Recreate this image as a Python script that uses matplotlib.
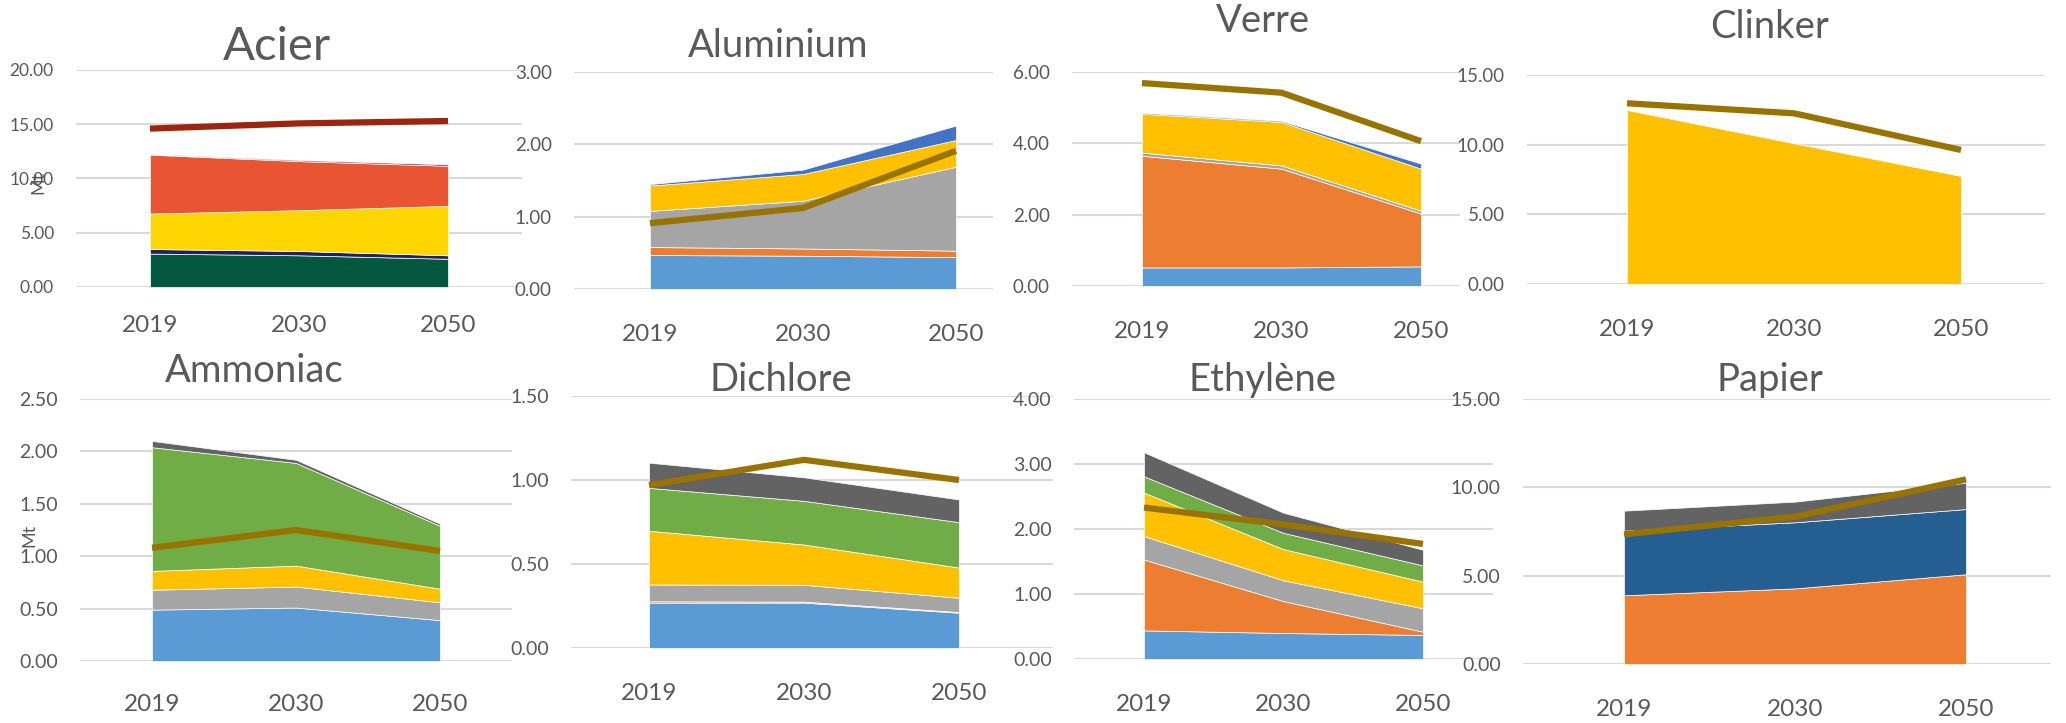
import matplotlib
matplotlib.use("Agg")
import matplotlib.pyplot as plt
import numpy as np

plt.rcParams["font.family"] = ["Lato", "DejaVu Sans"]

years = ["2019", "2030", "2050"]

# Acier (Mt) - stacked layers bottom to top + line
acier_green = [3.08, 2.92, 2.60]
acier_navy = [0.42, 0.40, 0.32]
acier_yellow = [3.27, 3.76, 4.56]
acier_red = [5.43, 4.52, 3.69]
acier_maroon = [0.05, 0.10, 0.13]
acier_line = [14.60, 15.08, 15.30]

# Aluminium
alu_blue = [0.47, 0.46, 0.44]
alu_orange = [0.11, 0.10, 0.09]
alu_gray = [0.50, 0.66, 1.16]
alu_yellow = [0.35, 0.37, 0.37]
alu_dblue = [0.02, 0.06, 0.20]
alu_line = [0.91, 1.12, 1.91]

# Verre
verre_blue = [0.52, 0.52, 0.55]
verre_orange = [3.13, 2.77, 1.48]
verre_gray = [0.09, 0.09, 0.08]
verre_yellow = [1.09, 1.22, 1.18]
verre_dblue = [0.03, 0.03, 0.14]
verre_line = [5.69, 5.42, 4.06]

# Clinker
clinker_yellow = [12.49, 10.10, 7.75]
clinker_line = [12.97, 12.25, 9.62]

# Ammoniac
amm_blue = [0.49, 0.51, 0.39]
amm_gray = [0.19, 0.20, 0.17]
amm_yellow = [0.18, 0.20, 0.13]
amm_green = [1.18, 0.98, 0.60]
amm_dgray = [0.06, 0.03, 0.02]
amm_line = [1.08, 1.25, 1.05]

# Dichlore
dic_blue = [0.27, 0.27, 0.21]
dic_orange = [0.008, 0.006, 0.004]
dic_gray = [0.10, 0.10, 0.085]
dic_yellow = [0.32, 0.24, 0.18]
dic_green = [0.255, 0.26, 0.27]
dic_dgray = [0.15, 0.14, 0.135]
dic_line = [0.97, 1.12, 1.00]

# Ethylene
eth_blue = [0.44, 0.40, 0.37]
eth_orange = [1.09, 0.49, 0.05]
eth_gray = [0.36, 0.32, 0.36]
eth_yellow = [0.67, 0.48, 0.41]
eth_green = [0.25, 0.25, 0.25]
eth_dgray = [0.37, 0.31, 0.24]
eth_line = [2.33, 2.07, 1.77]

# Papier
pap_orange = [3.89, 4.28, 5.08]
pap_dblue = [3.66, 3.74, 3.69]
pap_dgray = [1.13, 1.17, 1.49]
pap_line = [7.34, 8.34, 10.45]

BLUE, ORANGE, GRAY, YELLOW = "#5B9BD5", "#ED7D31", "#A5A5A5", "#FFC000"
DBLUE, GREEN, DGRAY, NAVY = "#4472C4", "#70AD47", "#636363", "#255E91"
GOLD = "#997300"
TXT = "#595959"

W, H = 2066, 723
fig = plt.figure(figsize=(W / 100, H / 100), dpi=100)


def panel(box, cats, ymax, step, layers, colors, line, line_color,
          title, title_pos, title_size, ysize, xpad):
    gx0, gx1, yt, yb = box
    ax = fig.add_axes([gx0 / W, 1 - yb / H, (gx1 - gx0) / W, (yb - yt) / H])
    ax.patch.set_visible(False)
    b = (cats[1] - cats[0]) / 2
    ax.set_xlim((gx0 - cats[0]) / b, (gx1 - cats[0]) / b)
    ax.set_ylim(0, ymax)
    x = np.arange(len(years))
    ax.stackplot(x, layers, colors=colors, edgecolor="white", linewidth=0.5, zorder=2)
    ax.plot(x, line, color=line_color, lw=4.5, solid_capstyle="butt",
            solid_joinstyle="miter", zorder=3)
    ticks = np.arange(0, ymax + step / 2, step)
    ax.set_yticks(ticks)
    ax.set_yticklabels([f"{t:.2f}" for t in ticks], fontsize=ysize, color=TXT)
    ax.set_xticks(x)
    ax.set_xticklabels(years, fontsize=17.5, color=TXT)
    ax.tick_params(axis="y", length=0, pad=16)
    ax.tick_params(axis="x", length=0, pad=xpad)
    for s in ax.spines.values():
        s.set_visible(False)
    ax.grid(axis="y", color="#D9D9D9", lw=1.5, zorder=0)
    ax.set_axisbelow(True)
    fig.text(title_pos[0] / W, 1 - title_pos[1] / H, title, ha="center",
             va="baseline", fontsize=title_size, color=TXT)
    return ax


panel((76, 522, 70, 287), (150, 448), 20, 5,
      [acier_green, acier_navy, acier_yellow, acier_red, acier_maroon],
      ["#01583F", "#22215E", "#FDD600", "#E95533", "#7A1E3C"],
      acier_line, "#9C2510", "Acier", (277, 60), 34, 12.5, 20)
panel((574, 993, 72, 289), (650, 956), 3, 1,
      [alu_blue, alu_orange, alu_gray, alu_yellow, alu_dblue],
      [BLUE, ORANGE, GRAY, YELLOW, DBLUE],
      alu_line, GOLD, "Aluminium", (778, 57), 27.5, 13.5, 25)
panel((1072, 1460, 72, 286), (1142, 1421), 6, 2,
      [verre_blue, verre_orange, verre_gray, verre_yellow, verre_dblue],
      [BLUE, ORANGE, GRAY, YELLOW, DBLUE],
      verre_line, GOLD, "Verre", (1263, 32), 27.5, 13.5, 25.5)
panel((1527, 2045, 75, 284), (1627, 1961), 15, 5,
      [clinker_yellow], [YELLOW],
      clinker_line, GOLD, "Clinker", (1769, 38), 27.5, 13.5, 25.5)
panel((80, 512, 399, 661), (152, 440), 2.5, 0.5,
      [amm_blue, amm_gray, amm_yellow, amm_green, amm_dgray],
      [BLUE, GRAY, YELLOW, GREEN, DGRAY],
      amm_line, GOLD, "Ammoniac", (254, 382), 27.5, 14, 24)
panel((571, 1053, 396, 648), (649, 959), 1.5, 0.5,
      [dic_blue, dic_orange, dic_gray, dic_yellow, dic_green, dic_dgray],
      [BLUE, ORANGE, GRAY, YELLOW, GREEN, DGRAY],
      dic_line, GOLD, "Dichlore", (781, 391), 27.5, 14, 25.5)
panel((1074, 1493, 399, 659), (1144, 1423), 4, 1,
      [eth_blue, eth_orange, eth_gray, eth_yellow, eth_green, eth_dgray],
      [BLUE, ORANGE, GRAY, YELLOW, GREEN, DGRAY],
      eth_line, GOLD, "Ethylène", (1263, 391), 27.5, 14, 25)
panel((1523, 2051, 399, 664), (1624, 1966), 15, 5,
      [pap_orange, pap_dblue, pap_dgray], [ORANGE, NAVY, DGRAY],
      pap_line, GOLD, "Papier", (1770, 391), 27.5, 14, 25.5)

# y-axis unit labels, placed where the source charts put them
fig.text(38 / W, 1 - 182 / H, "Mt", rotation=90, ha="center", va="center",
         fontsize=13, color=TXT)
fig.text(29 / W, 1 - 535 / H, "Mt", rotation=90, ha="center", va="center",
         fontsize=13, color=TXT)

fig.savefig("out.png", dpi=100)
